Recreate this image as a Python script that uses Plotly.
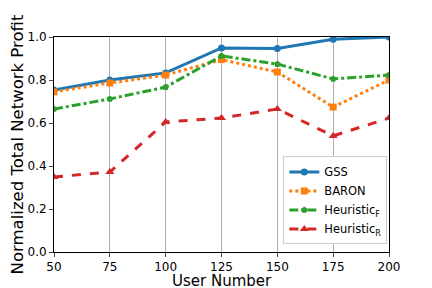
import plotly.graph_objects as go

users = [50, 75, 100, 125, 150, 175, 200]
gss = [0.753, 0.800, 0.833, 0.949, 0.947, 0.990, 1.000]
baron = [0.745, 0.786, 0.823, 0.895, 0.837, 0.674, 0.800]
heur_f = [0.665, 0.712, 0.767, 0.912, 0.874, 0.805, 0.823]
heur_r = [0.349, 0.372, 0.605, 0.623, 0.665, 0.540, 0.623]
xticks = [50, 75, 100, 125, 150, 175, 200]
yticks = [0.0, 0.2, 0.4, 0.6, 0.8, 1.0]

fig = go.Figure()
series = [
    ("GSS", gss, "#1f77b4", "solid", "circle", 7),
    ("BARON", baron, "#ff7f0e", "dot", "square", 7),
    ("Heuristic<sub>F</sub>", heur_f, "#2ca02c", "dashdot", "pentagon", 7),
    ("Heuristic<sub>R</sub>", heur_r, "#d62728", "dash", "triangle-up", 8),
]
for name, ys, c, dash, sym, ms in series:
    fig.add_trace(go.Scatter(x=users, y=ys, name=name, mode="lines+markers",
                             line=dict(color=c, width=3, dash=dash),
                             marker=dict(symbol=sym, size=ms, color=c)))

fig.add_annotation(text="User Number", xref="paper", yref="paper", x=0.5, y=0,
                   xanchor="center", yanchor="top", yshift=-19, showarrow=False,
                   borderpad=0,
                   font=dict(size=15, family="DejaVu Sans", color="black"))

fig.update_layout(
    width=424, height=280,
    margin=dict(l=46, r=43, t=29, b=36, autoexpand=False),
    paper_bgcolor="white", plot_bgcolor="white",
    font=dict(family="DejaVu Sans", size=12, color="black"),
    legend=dict(x=0.995, y=0.035, xanchor="right", yanchor="bottom",
                bgcolor="white", bordercolor="#cccccc", borderwidth=1,
                font=dict(size=11.5), tracegroupgap=0, itemwidth=30),
    xaxis=dict(range=[50, 200], tickvals=xticks, showgrid=True, gridcolor="#b0b0b0",
               gridwidth=1, showline=True, linecolor="black", linewidth=1, mirror=True,
               ticks="outside", ticklen=4, zeroline=False, automargin=False,
               tickfont=dict(size=12)),
    yaxis=dict(range=[0, 1.0], tickvals=yticks, tickformat=".1f", showgrid=False,
               showline=True, linecolor="black", linewidth=1, mirror=True,
               ticks="outside", ticklen=4, zeroline=False, automargin=False,
               tickfont=dict(size=12),
               title=dict(text="Normalized Total Network Profit", font=dict(size=16.5))),
)
fig.write_html("out.html")
